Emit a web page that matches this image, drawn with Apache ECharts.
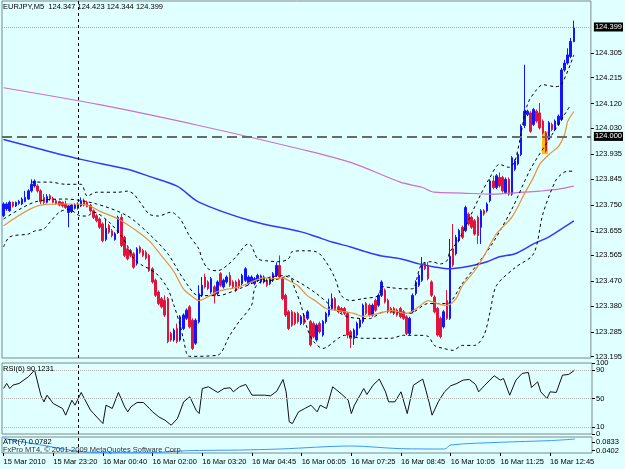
<!DOCTYPE html>
<html>
<head>
<meta charset="utf-8">
<script src="https://cdn.jsdelivr.net/npm/echarts@6/dist/echarts.min.js"></script>
<style>
html, body { margin: 0; padding: 0; background: #e0ffff; }
#chart { width: 625px; height: 469px; }
</style>
</head>
<body>
<div id="chart"></div>
<script>
// EURJPY M5, one value per bar
var opens = [123.710,123.735,123.728,123.759,123.746,123.755,123.753,123.762,123.771,123.801,123.819,123.819,123.801,123.777,123.759,123.783,123.773,123.765,123.762,123.759,
123.753,123.722,123.725,123.737,123.737,123.746,123.765,123.759,123.749,123.728,123.710,123.698,123.680,123.623,123.674,123.655,123.623,123.650,123.704,123.631,
123.589,123.583,123.571,123.535,123.595,123.583,123.577,123.565,123.516,123.474,123.431,123.407,123.401,123.407,123.280,123.256,123.298,123.256,123.298,123.335,
123.377,123.328,123.244,123.322,123.419,123.486,123.468,123.431,123.450,123.425,123.498,123.450,123.468,123.492,123.468,123.468,123.474,123.462,123.474,123.462,
123.468,123.462,123.474,123.468,123.468,123.474,123.462,123.474,123.492,123.528,123.480,123.419,123.359,123.359,123.353,123.353,123.316,123.347,123.335,123.323,
123.316,123.256,123.316,123.274,123.323,123.347,123.371,123.407,123.377,123.371,123.371,123.353,123.286,123.262,123.274,123.304,123.323,123.389,123.383,123.347,
123.401,123.383,123.419,123.438,123.401,123.371,123.371,123.365,123.371,123.359,123.341,123.280,123.359,123.426,123.456,123.474,123.535,123.529,123.468,123.413,
123.371,123.335,123.304,123.400,123.335,123.589,123.571,123.619,123.668,123.656,123.716,123.704,123.692,123.704,123.668,123.728,123.728,123.765,123.837,123.813,
123.850,123.850,123.795,123.843,123.789,123.880,123.900,123.934,124.040,124.080,124.086,124.044,124.092,124.086,124.056,124.013,123.995,124.044,124.025,124.044,
124.062,124.243,124.268,124.292,124.347];
var highs = [123.759,123.759,123.765,123.762,123.762,123.768,123.777,123.801,123.807,123.843,123.843,123.825,123.807,123.789,123.789,123.789,123.780,123.771,123.765,123.762,
123.765,123.749,123.753,123.755,123.759,123.777,123.773,123.765,123.753,123.733,123.716,123.704,123.686,123.698,123.680,123.662,123.650,123.710,123.716,123.637,
123.595,123.589,123.577,123.595,123.601,123.589,123.583,123.571,123.522,123.480,123.437,123.413,123.419,123.413,123.286,123.298,123.316,123.347,123.353,123.371,
123.383,123.335,123.335,123.456,123.486,123.498,123.474,123.486,123.456,123.474,123.504,123.480,123.492,123.504,123.474,123.474,123.480,123.498,123.522,123.492,
123.492,123.486,123.498,123.495,123.492,123.480,123.486,123.504,123.540,123.565,123.486,123.425,123.365,123.365,123.359,123.359,123.347,123.353,123.365,123.329,
123.323,123.316,123.323,123.329,123.359,123.407,123.426,123.413,123.383,123.377,123.377,123.359,123.292,123.298,123.323,123.335,123.389,123.395,123.389,123.389,
123.407,123.426,123.474,123.444,123.407,123.377,123.377,123.371,123.377,123.365,123.347,123.341,123.426,123.474,123.498,123.559,123.541,123.541,123.474,123.419,
123.377,123.341,123.365,123.438,123.625,123.680,123.640,123.662,123.674,123.747,123.722,123.710,123.698,123.710,123.734,123.734,123.759,123.843,123.856,123.862,
123.868,123.856,123.850,123.850,123.928,123.916,123.940,124.044,124.262,124.098,124.092,124.104,124.098,124.122,124.062,124.019,124.056,124.050,124.062,124.080,
124.250,124.280,124.322,124.360,124.423];
var lows = [123.705,123.728,123.725,123.740,123.742,123.750,123.749,123.759,123.768,123.795,123.813,123.795,123.753,123.749,123.755,123.765,123.755,123.750,123.744,123.740,
123.735,123.668,123.720,123.733,123.733,123.742,123.744,123.740,123.722,123.698,123.686,123.662,123.613,123.617,123.644,123.631,123.619,123.644,123.595,123.559,
123.547,123.559,123.516,123.528,123.571,123.559,123.549,123.504,123.462,123.413,123.383,123.371,123.340,123.244,123.250,123.250,123.244,123.250,123.292,123.329,
123.298,123.219,123.238,123.316,123.413,123.444,123.438,123.425,123.389,123.419,123.450,123.444,123.462,123.450,123.444,123.431,123.444,123.456,123.468,123.456,
123.462,123.456,123.468,123.462,123.462,123.450,123.456,123.468,123.486,123.480,123.401,123.340,123.292,123.304,123.310,123.316,123.310,123.310,123.329,123.232,
123.262,123.250,123.280,123.268,123.316,123.341,123.365,123.365,123.353,123.353,123.347,123.262,123.226,123.238,123.268,123.298,123.316,123.347,123.341,123.341,
123.359,123.377,123.413,123.389,123.353,123.353,123.347,123.341,123.335,123.329,123.274,123.274,123.353,123.419,123.450,123.468,123.511,123.474,123.413,123.353,
123.268,123.262,123.298,123.329,123.329,123.524,123.565,123.613,123.625,123.650,123.674,123.662,123.637,123.607,123.607,123.710,123.722,123.759,123.807,123.807,
123.813,123.795,123.789,123.783,123.783,123.874,123.894,123.928,124.031,124.074,124.013,124.038,124.050,124.025,124.007,123.941,123.989,124.019,124.019,124.038,
124.056,124.237,124.262,124.286,124.344];
var closes = [123.753,123.753,123.759,123.746,123.759,123.762,123.771,123.777,123.801,123.825,123.837,123.801,123.762,123.759,123.780,123.771,123.759,123.755,123.749,123.746,
123.740,123.746,123.749,123.749,123.753,123.765,123.749,123.744,123.728,123.704,123.692,123.668,123.619,123.664,123.650,123.637,123.644,123.704,123.601,123.565,
123.553,123.565,123.522,123.589,123.577,123.565,123.555,123.510,123.468,123.419,123.389,123.377,123.347,123.250,123.256,123.292,123.250,123.341,123.347,123.365,
123.304,123.225,123.328,123.425,123.456,123.450,123.444,123.480,123.419,123.468,123.456,123.474,123.486,123.456,123.450,123.437,123.450,123.492,123.516,123.486,
123.486,123.480,123.492,123.490,123.486,123.456,123.480,123.498,123.528,123.486,123.407,123.347,123.298,123.310,123.316,123.323,123.341,123.316,123.359,123.238,
123.268,123.310,123.286,123.323,123.353,123.377,123.407,123.371,123.359,123.359,123.353,123.274,123.262,123.292,123.316,123.329,123.383,123.353,123.347,123.383,
123.365,123.419,123.468,123.395,123.359,123.359,123.353,123.347,123.341,123.335,123.280,123.335,123.419,123.468,123.492,123.529,123.517,123.480,123.419,123.359,
123.274,123.268,123.359,123.335,123.563,123.530,123.631,123.656,123.631,123.740,123.680,123.668,123.643,123.638,123.728,123.716,123.753,123.837,123.813,123.856,
123.819,123.801,123.843,123.789,123.922,123.910,123.934,124.037,124.092,124.092,124.019,124.098,124.056,124.031,124.013,123.947,124.050,124.025,124.056,124.074,
124.243,124.268,124.298,124.347,124.399];

var totalSlots = 190;
var tickLabels = ['15 Mar 2010', '15 Mar 23:20', '16 Mar 00:40', '16 Mar 02:00', '16 Mar 03:20', '16 Mar 04:45',
    '16 Mar 06:05', '16 Mar 07:25', '16 Mar 08:45', '16 Mar 10:05', '16 Mar 11:25', '16 Mar 12:45'];
var tickStep = 16;
var priceTicks = [123.195, 123.285, 123.380, 123.470, 123.565, 123.655, 123.750, 123.845, 123.935, 124.030, 124.120, 124.215, 124.305];
var bidLevel = 124.399;
var roundLevel = 124.000;
var separatorBar = 24;
var highlightBox = [[175, 124.019, 123.935]];

// indicator lines as [bar, value]
var maOrange = [[0,123.673],[12,123.749],[20,123.753],[27,123.749],[31,123.727],[37,123.698],[42,123.662],[47,123.618],[51,123.563],[55,123.505],[58,123.443],[61,123.414],[63,123.400],[66,123.414],[69,123.433],[73,123.443],[77,123.454],[81,123.473],[84,123.483],[88,123.480],[90,123.483],[92,123.473],[95,123.454],[98,123.418],[101,123.396],[104,123.371],[108,123.363],[113,123.353],[116,123.342],[121,123.353],[125,123.363],[130,123.353],[134,123.378],[137,123.400],[140,123.389],[143,123.382],[146,123.407],[148,123.454],[152,123.509],[155,123.563],[159,123.643],[164,123.705],[168,123.789],[171,123.851],[173,123.898],[176,123.934],[179,123.963],[181,124.007],[182,124.054],[184,124.091]];
var bbUpper = [[9,123.833],[15,123.833],[20,123.825],[25,123.825],[27,123.782],[30,123.796],[37,123.796],[40,123.800],[42,123.789],[44,123.760],[47,123.716],[50,123.709],[54,123.723],[57,123.698],[60,123.636],[63,123.589],[64,123.553],[66,123.516],[69,123.509],[72,123.527],[75,123.560],[79,123.607],[80,123.600],[82,123.553],[85,123.545],[89,123.542],[92,123.553],[93,123.578],[97,123.582],[101,123.578],[104,123.542],[107,123.480],[109,123.418],[112,123.400],[116,123.407],[121,123.418],[122,123.451],[125,123.447],[129,123.443],[132,123.443],[134,123.509],[135,123.534],[138,123.542],[141,123.534],[143,123.545],[144,123.578],[147,123.625],[154,123.789],[157,123.851],[160,123.898],[163,123.887],[165,123.909],[169,124.116],[172,124.171],[174,124.189],[178,124.182],[180,124.189],[184,124.298]];
var bbMiddle = [[0,123.698],[10,123.760],[20,123.771],[30,123.753],[40,123.709],[47,123.643],[53,123.571],[58,123.480],[63,123.418],[69,123.418],[76,123.443],[84,123.480],[90,123.491],[95,123.469],[101,123.425],[110,123.345],[118,123.334],[123,123.360],[131,123.353],[137,123.389],[143,123.389],[148,123.462],[157,123.596],[164,123.734],[170,123.880],[176,123.989],[183,124.116]];
var bbLower = [[0,123.596],[2,123.633],[8,123.643],[10,123.654],[13,123.662],[15,123.687],[18,123.723],[21,123.734],[25,123.709],[27,123.709],[29,123.723],[34,123.687],[38,123.636],[40,123.600],[42,123.553],[45,123.527],[47,123.516],[50,123.491],[53,123.443],[55,123.382],[57,123.309],[58,123.262],[60,123.196],[69,123.200],[73,123.273],[76,123.323],[80,123.382],[81,123.443],[83,123.469],[86,123.473],[89,123.480],[92,123.491],[94,123.443],[96,123.382],[98,123.298],[100,123.251],[103,123.225],[108,123.262],[110,123.273],[112,123.269],[116,123.262],[121,123.262],[125,123.262],[129,123.273],[134,123.273],[137,123.269],[139,123.236],[142,123.225],[145,123.218],[148,123.236],[152,123.236],[155,123.273],[157,123.360],[159,123.454],[165,123.520],[171,123.571],[174,123.716],[178,123.836],[180,123.862],[182,123.873],[184,123.873]];
var maBlue = [[0,123.989],[12,123.953],[25,123.916],[40,123.880],[47,123.854],[56,123.818],[63,123.760],[80,123.691],[96,123.651],[101,123.633],[106,123.614],[112,123.596],[117,123.578],[122,123.563],[128,123.553],[134,123.534],[139,123.523],[144,123.516],[151,123.527],[156,123.542],[160,123.560],[165,123.571],[171,123.607],[176,123.633],[181,123.669],[184,123.691]];
var maMagenta = [[0,124.178],[31,124.116],[63,124.040],[96,123.953],[112,123.905],[128,123.833],[135,123.814],[139,123.796],[148,123.793],[157,123.789],[168,123.796],[173,123.800],[179,123.807],[184,123.818]];

var rsiValues = [[0,64.1],[1,71.2],[2,64.1],[3,68.8],[5,71.2],[8,80.6],[10,90],[12,54.7],[13,45.3],[14,54.7],[16,42.9],[19,35.9],[20,26.5],[22,47.6],[23,40.6],[25,58.5],[26,50],[28,33.5],[29,28.8],[32,14.7],[33,40.6],[35,35.9],[37,58.5],[39,38.2],[40,31.2],[41,38.2],[43,44.4],[45,44.4],[47,35.9],[48,31.2],[50,24.1],[52,19.4],[54,12.4],[56,21.8],[58,45.3],[60,52.4],[62,33.5],[63,28.8],[64,64.1],[66,66.5],[69,58.5],[71,64.1],[73,65.1],[74,59.4],[76,66.5],[78,69.8],[80,54.7],[84,54.7],[86,53.8],[88,60.4],[90,76.8],[91,59.4],[92,17.1],[93,14.7],[95,31.2],[97,35.9],[99,40.6],[101,31.2],[102,40.6],[104,35.9],[106,66.5],[109,55.6],[111,47.6],[112,28.8],[113,40.6],[116,64.1],[117,55.6],[119,68.8],[121,77.3],[123,59.4],[124,45.3],[126,45.3],[128,59.4],[130,28.8],[132,68.8],[135,77.3],[136,61.8],[137,45.3],[138,26.5],[140,45.3],[142,59.4],[144,67.9],[146,71.2],[148,75.9],[150,76.8],[152,69.8],[153,59.4],[155,68.8],[158,82],[160,75.9],[161,78.2],[163,54.7],[165,75.9],[167,85.3],[169,86.7],[170,65.5],[172,73.5],[173,59.4],[175,50],[176,59.4],[178,58.5],[180,82.9],[182,83.9],[184,90.1]];
var rsiTicks = [0, 50, 100];
var rsiLevelTicks = [10, 90];
var rsiLevels = [10, 50, 90];
var rsiLast = 90.1231;

var atrValues = [[0,0.104],[12,0.0695],[28,0.032],[47,0.030],[59,0.0402],[76,0.0436],[89,0.0489],[112,0.0643],[128,0.0505],[142,0.0489],[144,0.0695],[160,0.0833],[176,0.092],[184,0.100]];
var atrTicks = [0.0402, 0.0833];
var atrLast = 0.0782;

var font = 'Liberation Sans';
var fs = 7.5;

var cats = [];
for (var i = 0; i < totalSlots; ++i) cats.push(String(i));

var candles = [];
for (var i = 0; i < closes.length; ++i)
    candles.push([opens[i], closes[i], lows[i], highs[i]]);

var last = closes.length - 1;
var header = 'EURJPY,M5  ' + opens[last].toFixed(3) + ' ' + highs[last].toFixed(3) + ' ' +
    lows[last].toFixed(3) + ' ' + closes[last].toFixed(3);

function isTick(idx) {
    return idx % tickStep === 0 && idx / tickStep < tickLabels.length;
}

function makeXAxis(gi, withLabels) {
    return {
        type: 'category', gridIndex: gi, data: cats, boundaryGap: true,
        axisLine: {show: false},
        axisTick: {show: withLabels, interval: isTick, alignWithLabel: true, length: 3, lineStyle: {color: '#000'}},
        axisLabel: {
            show: withLabels, interval: isTick, align: 'left', margin: 5,
            fontSize: fs, fontFamily: font, color: '#000',
            formatter: function (v, idx) { return tickLabels[idx / tickStep] || ''; }
        },
        splitLine: {show: false}
    };
}

function makeYAxis(gi, min, max, ticks, digits) {
    return {
        type: 'value', gridIndex: gi, position: 'right', min: min, max: max,
        axisLine: {show: false},
        splitLine: {show: false},
        axisTick: {show: true, customValues: ticks, length: 3, lineStyle: {color: '#000'}},
        axisLabel: {
            customValues: ticks, margin: 4, fontSize: fs, fontFamily: font, color: '#000',
            showMinLabel: true, showMaxLabel: true, hideOverlap: false,
            formatter: function (v) { return digits == null ? String(v) : v.toFixed(digits); }
        }
    };
}

function lineSeries(data, color, width, type, gi) {
    return {
        type: 'line', xAxisIndex: gi, yAxisIndex: gi, data: data,
        symbol: 'none', smooth: 0.3, silent: true, z: 3,
        lineStyle: {color: color, width: width, type: type}
    };
}

function separatorLine() {
    return {
        symbol: ['none', 'none'], silent: true, animation: false,
        label: {show: false},
        lineStyle: {color: '#000', type: [3, 3], width: 1},
        data: [{xAxis: separatorBar}]
    };
}

function levelLabel(text) {
    return {
        show: true, position: 'end', distance: 3, formatter: text,
        backgroundColor: '#000', color: '#fff', padding: [1, 1, 0, 1],
        fontSize: fs, fontFamily: font
    };
}

var titleStyle = {fontSize: fs, fontWeight: 'normal', fontFamily: font, color: '#000'};

var option = {
    animation: false,
    backgroundColor: '#e0ffff',
    title: [
        {text: header, left: 3, top: 3, padding: 0, textStyle: titleStyle},
        {text: 'RSI(6) ' + rsiLast.toFixed(4), left: 3, top: 365, padding: 0, textStyle: titleStyle},
        {text: 'ATR(7) ' + atrLast.toFixed(4), left: 3, top: 438, padding: 0, textStyle: titleStyle},
        {text: 'FxPro MT4, \u00a9 2001-2009 MetaQuotes Software Corp.', left: 3, top: 446, padding: 0,
            textStyle: {fontSize: fs, fontWeight: 'normal', fontFamily: font, color: '#303030'}}
    ],
    grid: [
        {left: 2, right: 33, top: 1, height: 357, show: true, borderColor: '#7a8a8a', borderWidth: 1},
        {left: 2, right: 33, top: 363, height: 71, show: true, borderColor: '#7a8a8a', borderWidth: 1},
        {left: 2, right: 33, top: 437, height: 16, show: true, borderColor: '#7a8a8a', borderWidth: 1}
    ],
    xAxis: [makeXAxis(0, false), makeXAxis(1, false), makeXAxis(2, true)],
    yAxis: [
        makeYAxis(0, 123.19, 124.495, priceTicks, 3),
        makeYAxis(1, 0, 100, rsiTicks, null),
        makeYAxis(2, 0.0284, 0.1105, atrTicks, 4),
        // second scale on the RSI panel so the 10 / 90 labels are not dropped next to 0 / 100
        makeYAxis(1, 0, 100, rsiLevelTicks, null)
    ],
    series: [
        {
            type: 'custom', xAxisIndex: 0, yAxisIndex: 0, z: 1, silent: true,
            data: highlightBox,
            renderItem: function (params, api) {
                var top = api.coord([api.value(0), api.value(1)]);
                var bot = api.coord([api.value(0), api.value(2)]);
                var bw = api.size([1, 0])[0];
                return {
                    type: 'rect',
                    shape: {x: top[0] - bw * 1.3, y: top[1], width: bw * 1.9, height: bot[1] - top[1]},
                    style: {fill: '#ffbf00'}
                };
            }
        },
        {
            type: 'candlestick', xAxisIndex: 0, yAxisIndex: 0, data: candles,
            barWidth: 2, silent: true, z: 2,
            itemStyle: {color: '#1414ff', color0: '#e0143c', borderColor: '#1414ff', borderColor0: '#e0143c', borderWidth: 1},
            markLine: {
                symbol: ['none', 'none'], silent: true, animation: false,
                data: [
                    {yAxis: bidLevel, lineStyle: {color: '#a8a8a8', type: 'dotted', width: 1}, label: levelLabel(bidLevel.toFixed(3))},
                    {yAxis: roundLevel, lineStyle: {color: '#6a6a6a', type: [10, 5], width: 2}, label: levelLabel(roundLevel.toFixed(3))},
                    {xAxis: separatorBar, lineStyle: {color: '#000', type: [3, 3], width: 1}, label: {show: false}}
                ]
            }
        },
        lineSeries(maMagenta, '#cc70cc', 1.2, 'solid', 0),
        lineSeries(maBlue, '#3535ff', 1.5, 'solid', 0),
        lineSeries(bbUpper, '#000', 1, [3, 3], 0),
        lineSeries(bbMiddle, '#000', 1, [3, 3], 0),
        lineSeries(bbLower, '#000', 1, [3, 3], 0),
        lineSeries(maOrange, '#e8903c', 1.2, 'solid', 0),
        (function () {
            var s = lineSeries(rsiValues, '#111', 1, 'solid', 1);
            s.smooth = false;
            s.markLine = {
                symbol: ['none', 'none'], silent: true, animation: false,
                label: {show: false},
                lineStyle: {color: '#b4b4b4', type: 'dotted', width: 1},
                data: rsiLevels.map(function (v) { return {yAxis: v}; }).concat([
                    {xAxis: separatorBar, lineStyle: {color: '#000', type: [3, 3], width: 1}}
                ])
            };
            return s;
        })(),
        (function () {
            var s = lineSeries(atrValues, '#3c96ff', 1, 'solid', 2);
            s.markLine = separatorLine();
            return s;
        })()
    ]
};

var myChart = echarts.init(document.getElementById('chart'));
myChart.setOption(option);
</script>
</body>
</html>
